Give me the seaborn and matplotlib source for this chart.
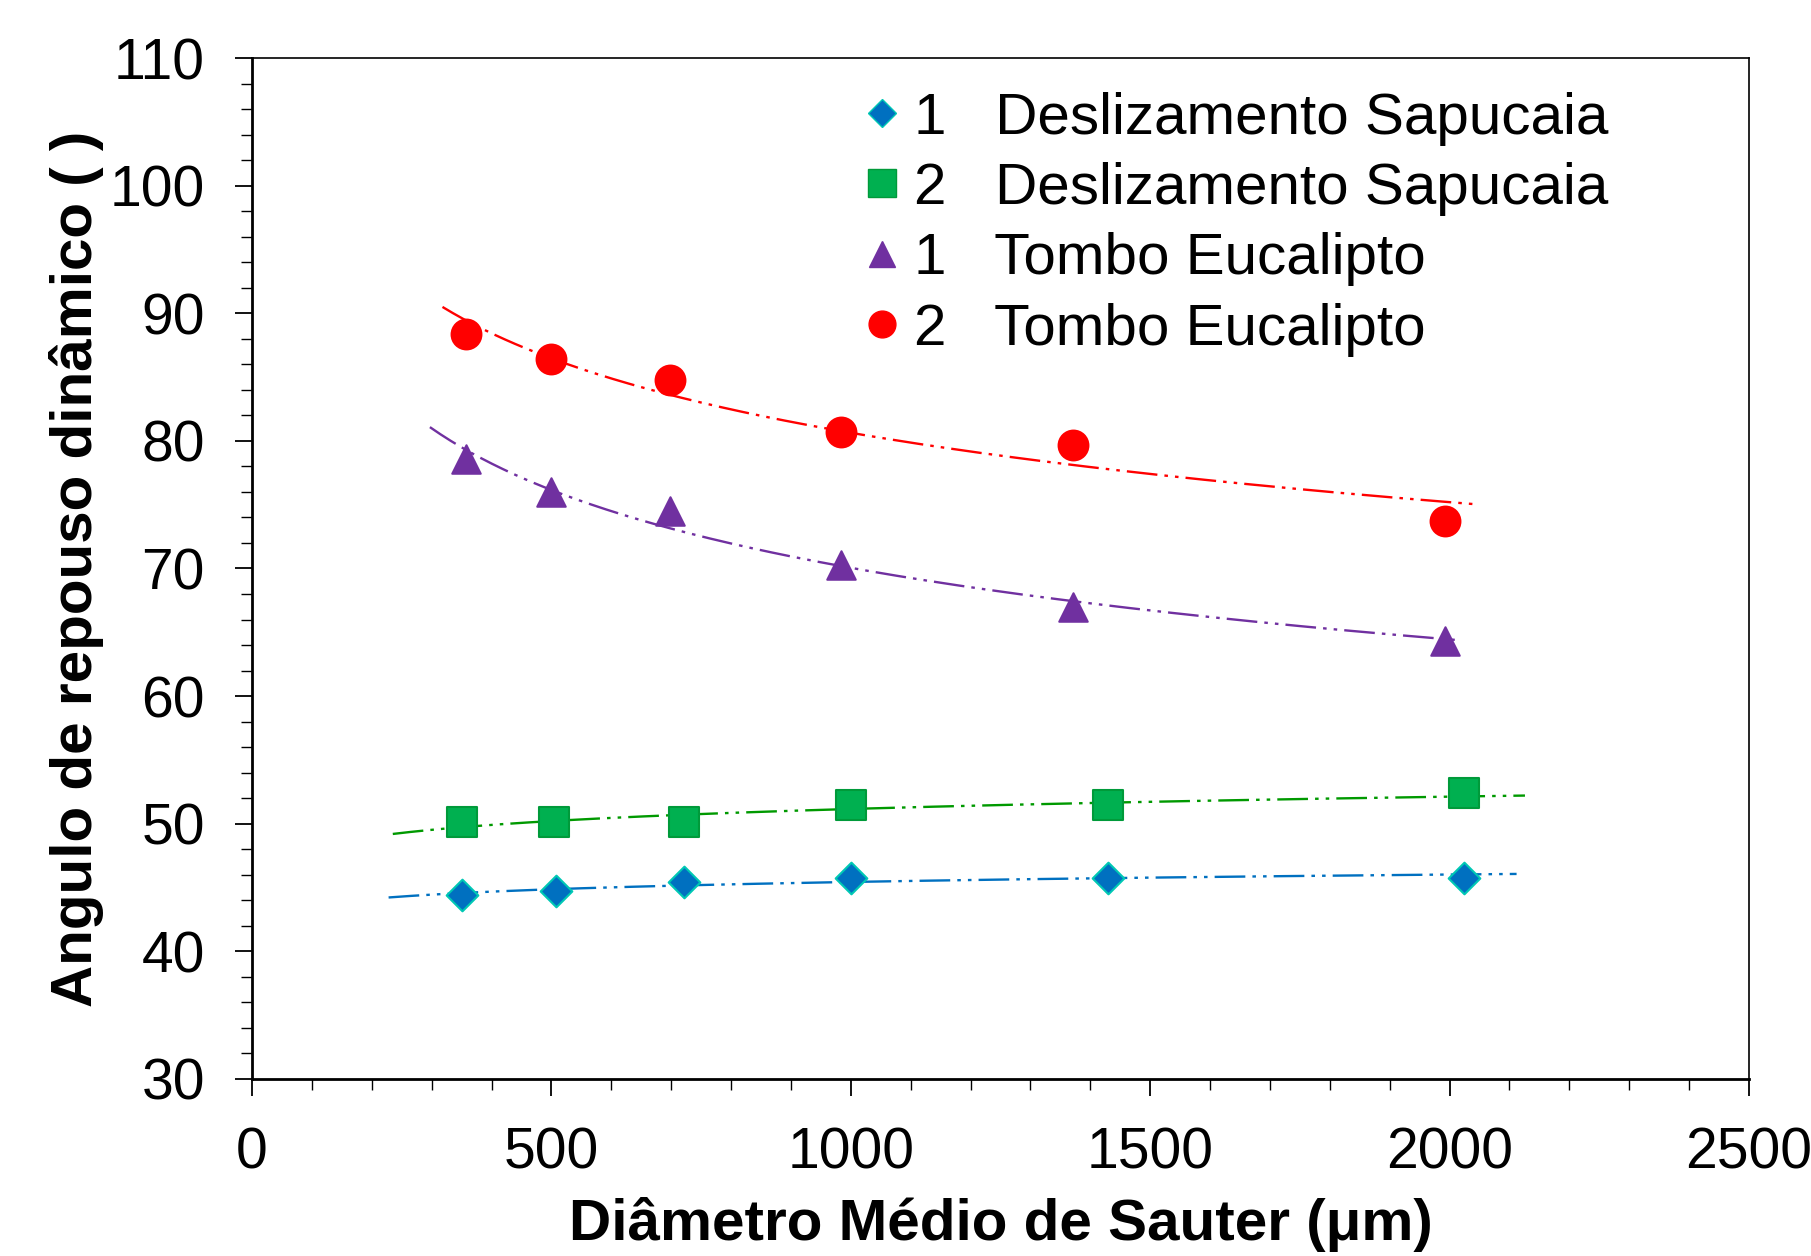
import numpy as np
import pandas as pd
import matplotlib
matplotlib.use("Agg")
import matplotlib.pyplot as plt
import seaborn as sns
from matplotlib.ticker import MultipleLocator

# ---- data ----
desl1_x = [351, 507, 721, 1001, 1429, 2025]
desl1_y = [44.4, 44.75, 45.4, 45.75, 45.75, 45.75]
desl2_x = [351, 505, 721, 1001, 1429, 2025]
desl2_y = [50.1, 50.1, 50.1, 51.45, 51.45, 52.4]
tomb1_x = [357, 500, 698, 984, 1371, 1993]
tomb1_y = [78.6, 76.0, 74.5, 70.3, 67.0, 64.3]
tomb2_x = [357, 500, 698, 984, 1371, 1993]
tomb2_y = [88.4, 86.4, 84.75, 80.7, 79.7, 73.7]

# trendline extents (x range of each dash-dot trend line)
desl1_trend = [228, 2112]
desl2_trend = [235, 2126]
tomb1_trend = [297, 2020]
tomb2_trend = [318, 2039]

labels = ["1   Deslizamento Sapucaia", "2   Deslizamento Sapucaia",
          "1   Tombo Eucalipto", "2   Tombo Eucalipto"]
x_label = "Diâmetro Médio de Sauter (μm)"
y_label = "Angulo de repouso dinâmico ( )"

sns.set_theme(style="white")
plt.rcParams["font.family"] = ["Liberation Sans", "DejaVu Sans"]
for k in ["text.color", "axes.labelcolor", "xtick.color", "ytick.color",
          "axes.edgecolor"]:
    plt.rcParams[k] = "black"

fig = plt.figure(figsize=(18.11, 12.56), dpi=100)
ax = fig.add_axes([0.1392, 0.1410, 0.8265, 0.8128])

series = [
    (desl1_x, desl1_y, desl1_trend, "D", 260, "#0070C0", "#00C8B4", "#0070C0"),
    (desl2_x, desl2_y, desl2_trend, "s", 480, "#00B050", "#009A3A", "#009900"),
    (tomb1_x, tomb1_y, tomb1_trend, "^", 420, "#7030A0", "#7030A0", "#7030A0"),
    (tomb2_x, tomb2_y, tomb2_trend, "o", 460, "#FF0000", "#FF0000", "#FF0000"),
]

dash = (0, (13, 3, 1.5, 3, 1.5, 3))
handles = []
for (xs, ys, tr, mk, sz, fc, ec, lc), lab in zip(series, labels):
    # power-law trend fit (as in spreadsheet trendline)
    b, lna = np.polyfit(np.log(xs), np.log(ys), 1)
    tx = np.linspace(tr[0], tr[1], 200)
    ty = np.exp(lna) * tx ** b
    sns.lineplot(x=tx, y=ty, ax=ax, color=lc, lw=1.7, linestyle=dash,
                 zorder=2, legend=False)
    df = pd.DataFrame({"x": xs, "y": ys})
    sns.scatterplot(data=df, x="x", y="y", ax=ax, marker=mk, s=sz,
                    color=fc, edgecolor=ec, linewidth=1.5, zorder=3,
                    legend=False)
    handles.append(plt.Line2D([], [], marker=mk, ls="none", color=fc,
                              markeredgecolor=ec, markersize=np.sqrt(sz) * 0.9,
                              label=lab))

ax.set_xlim(0, 2500)
ax.set_ylim(30, 110)
ax.xaxis.set_major_locator(MultipleLocator(500))
ax.xaxis.set_minor_locator(MultipleLocator(100))
ax.yaxis.set_major_locator(MultipleLocator(10))
ax.yaxis.set_minor_locator(MultipleLocator(2))
ax.tick_params(axis="both", which="major", direction="out", length=12,
               width=1.3, color="black", labelsize=41,
               bottom=True, left=True)
ax.tick_params(axis="y", which="major", pad=22)
ax.tick_params(axis="x", which="major", pad=22)
ax.tick_params(axis="both", which="minor", direction="out", length=8,
               width=1.0, color="black", bottom=True, left=True)
for s in ax.spines.values():
    s.set_color("black")
    s.set_linewidth(1.2)
ax.spines["left"].set_linewidth(2)
ax.spines["bottom"].set_linewidth(2)

ax.set_xlabel(x_label, fontsize=42, fontweight="bold", labelpad=12)
ax.set_ylabel(y_label, fontsize=42, fontweight="bold", labelpad=4)

leg = ax.legend(handles=handles, loc="upper left",
                bbox_to_anchor=(0.386, 0.99), frameon=False, fontsize=42,
                handletextpad=0.05, labelspacing=0.28, handlelength=1.0,
                borderaxespad=0)

fig.savefig("out.png", dpi=100, facecolor="white")
